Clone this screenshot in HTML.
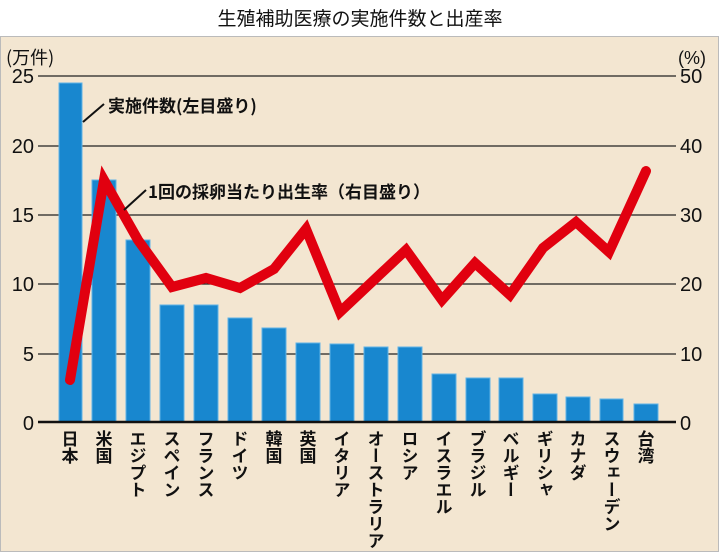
<!DOCTYPE html>
<html><head><meta charset="utf-8"><style>
body{margin:0;width:720px;height:552px;background:#fff;overflow:hidden;font-family:"Liberation Sans","Noto Sans CJK JP",sans-serif}
</style></head><body>
<svg width="720" height="552" xmlns="http://www.w3.org/2000/svg" style="position:absolute;left:0;top:0" font-family="Liberation Sans, Noto Sans CJK JP, sans-serif">
<rect x="0" y="0" width="720" height="552" fill="#fff"/>
<text x="360" y="25" font-size="19" text-anchor="middle" fill="#111" font-family="Noto Sans CJK JP, sans-serif">生殖補助医療の実施件数と出産率</text>
<rect x="0.5" y="36.5" width="718" height="515" fill="#f3e6d1" stroke="#bbb"/>
<g stroke="#222" stroke-width="1.2">
<line x1="38" y1="76" x2="676" y2="76"/><line x1="38" y1="146" x2="676" y2="146"/><line x1="38" y1="215" x2="676" y2="215"/><line x1="38" y1="284" x2="676" y2="284"/><line x1="38" y1="354" x2="676" y2="354"/>
</g>
<g font-size="20" fill="#111">
<text x="6" y="64" font-size="18" font-family="Noto Sans CJK JP, sans-serif">(万件)</text>
<text x="34" y="83" text-anchor="end">25</text><text x="34" y="153" text-anchor="end">20</text><text x="34" y="222" text-anchor="end">15</text><text x="34" y="291" text-anchor="end">10</text><text x="34" y="361" text-anchor="end">5</text><text x="34" y="430" text-anchor="end">0</text>
<text x="678" y="64" font-size="18">(%)</text>
<text x="680" y="83">50</text><text x="680" y="153">40</text><text x="680" y="222">30</text><text x="680" y="291">20</text><text x="680" y="361">10</text><text x="680" y="430">0</text>
</g>
<g fill="#1887cf" stroke="#5fb3e6" stroke-width="1">
<rect x="59" y="83" width="23" height="339"/>
<rect x="92" y="180" width="24" height="242"/>
<rect x="126" y="240" width="24" height="182"/>
<rect x="160" y="305" width="24" height="117"/>
<rect x="194" y="305" width="24" height="117"/>
<rect x="228" y="318" width="24" height="104"/>
<rect x="262" y="328" width="24" height="94"/>
<rect x="296" y="343" width="24" height="79"/>
<rect x="330" y="344" width="24" height="78"/>
<rect x="364" y="347" width="24" height="75"/>
<rect x="398" y="347" width="24" height="75"/>
<rect x="432" y="374" width="24" height="48"/>
<rect x="466" y="378" width="24" height="44"/>
<rect x="499" y="378" width="24" height="44"/>
<rect x="533" y="394" width="24" height="28"/>
<rect x="566" y="397" width="24" height="25"/>
<rect x="600" y="399" width="23" height="23"/>
<rect x="634" y="404" width="24" height="18"/>
</g>
<line x1="38" y1="422" x2="676" y2="422" stroke="#111" stroke-width="2.5"/>
<polyline fill="none" stroke="#e1000f" stroke-width="10" stroke-linejoin="miter" stroke-linecap="round" points="70,380 104,180 138,240 172,287 206,278 240,288 274,269 306,229 340,312 374,280 406,250 442,300 475,263 510,295 543,248 576,222 609,252 646,171"/>
<line x1="83" y1="122" x2="104" y2="104" stroke="#111" stroke-width="2"/>
<text x="108" y="112" font-size="17" font-weight="bold" fill="#111" font-family="Noto Sans CJK JP, sans-serif">実施件数(左目盛り)</text>
<line x1="124" y1="210" x2="146" y2="190" stroke="#111" stroke-width="2"/>
<text x="148" y="198" font-size="17" font-weight="bold" fill="#111" font-family="Noto Sans CJK JP, sans-serif">1回の採卵当たり出生率（右目盛り）</text>
<g font-size="17" font-weight="bold" fill="#111" font-family="Noto Sans CJK JP, sans-serif" style="writing-mode:vertical-rl">
<text x="70" y="430">日本</text><text x="104" y="430">米国</text><text x="138" y="430">エジプト</text><text x="172" y="430">スペイン</text><text x="206" y="430">フランス</text><text x="240" y="430">ドイツ</text><text x="274" y="430">韓国</text><text x="308" y="430">英国</text><text x="342" y="430">イタリア</text><text x="376" y="430">オーストラリア</text><text x="410" y="430">ロシア</text><text x="444" y="430">イスラエル</text><text x="478" y="430">ブラジル</text><text x="511" y="430">ベルギー</text><text x="545" y="430">ギリシャ</text><text x="578" y="430">カナダ</text><text x="612" y="430">スウェーデン</text><text x="646" y="430">台湾</text>
</g>
</svg>
</body></html>
